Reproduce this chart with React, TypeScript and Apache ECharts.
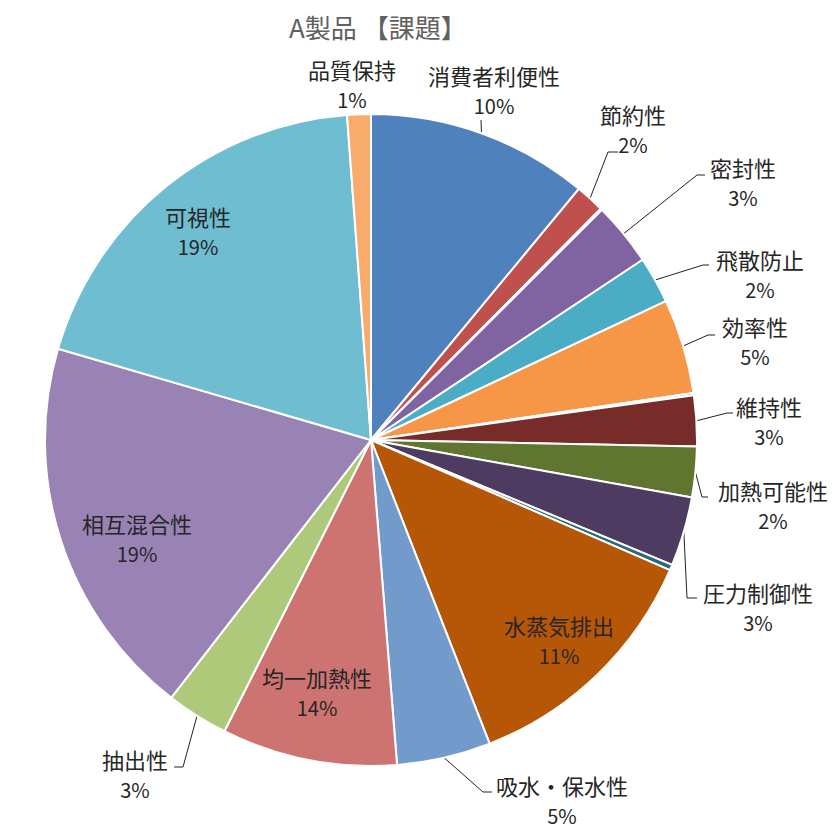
import React, { useEffect, useRef } from 'react';
import * as echarts from 'echarts';

// 項目（時計回り、12時から）。空文字は幅ほぼゼロのスライス
const names = [
  '消費者利便性', '節約性', '', '密封性', '飛散防止', '効率性', '', '維持性',
  '加熱可能性', '圧力制御性', '', '水蒸気排出', '吸水・保水性', '均一加熱性',
  '抽出性', '相互混合性', '可視性', '品質保持',
];
// 図から読み取ったスライスの大きさ（%）
const values = [
  10.97, 1.44, 0.08, 3.14, 2.31, 4.69, 0.11, 2.5,
  2.5, 3.42, 0.28, 12.5, 4.64, 8.67,
  3.06, 18.97, 19.25, 1.17,
];
// ラベルに表示されている割合
const shownPct = [
  '10%', '2%', '', '3%', '2%', '5%', '', '3%',
  '2%', '3%', '', '11%', '5%', '14%',
  '3%', '19%', '19%', '1%',
];
const colors = [
  '#4F81BD', '#C0504D', '#9BBB59', '#8064A2', '#4BACC6', '#F79646', '#2C4D75', '#772C2A',
  '#5F7530', '#4D3B62', '#276A7C', '#B65708', '#729ACA', '#CD7371',
  '#AFC97A', '#9983B5', '#6FBDD1', '#F9AB6B',
];
const insideLabels = ['水蒸気排出', '均一加熱性', '相互混合性', '可視性'];

// ラベル位置と引き出し線の折れ点（レイアウト用）
type Spot = { x: number; y: number; line?: number[][] };
const labelSpots: Record<string, Spot> = {
  '消費者利便性': { x: 494, y: 90, line: [[481, 120], [481, 120]] },
  '節約性': { x: 633, y: 129, line: [[608, 152], [618, 152]] },
  '密封性': { x: 743, y: 182, line: [[697, 175], [705, 175]] },
  '飛散防止': { x: 760, y: 274, line: [[703, 265], [709, 265]] },
  '効率性': { x: 755, y: 341, line: [[708, 335], [715, 335]] },
  '維持性': { x: 769, y: 421, line: [[727, 413], [733, 413]] },
  '加熱可能性': { x: 773, y: 505, line: [[702, 497], [708, 497]] },
  '圧力制御性': { x: 758, y: 607, line: [[687, 598], [697, 598]] },
  '水蒸気排出': { x: 559, y: 640 },
  '吸水・保水性': { x: 562, y: 800, line: [[483, 792], [492, 792]] },
  '均一加熱性': { x: 317, y: 692 },
  '抽出性': { x: 135, y: 774, line: [[183, 767], [174, 767]] },
  '相互混合性': { x: 137, y: 538 },
  '可視性': { x: 198, y: 231 },
  '品質保持': { x: 352, y: 84 },
};

const FONT = '"Noto Sans CJK JP", "Noto Sans", sans-serif';

export default function App() {
  const chartRef = useRef<HTMLDivElement>(null);

  useEffect(() => {
    document.body.style.margin = '0';
    if (!chartRef.current) return;
    const chart = echarts.init(chartRef.current, undefined, { renderer: 'svg' });

    const data = names.map((name, i) => {
      const tiny = name === '';
      const inside = insideLabels.includes(name);
      return {
        name,
        value: values[i],
        itemStyle: { color: colors[i] },
        label: { show: !tiny },
        labelLine: { show: !tiny && !inside && name !== '品質保持' },
      };
    });

    chart.setOption({
      animation: false,
      backgroundColor: '#fff',
      title: {
        text: 'A製品 【課題】',
        left: 284,
        top: 8,
        textStyle: { fontFamily: FONT, fontSize: 26, fontWeight: 'normal', color: '#606060' },
      },
      series: [
        {
          type: 'pie',
          center: [371, 440],
          radius: 326,
          startAngle: 90,
          clockwise: true,
          avoidLabelOverlap: false,
          itemStyle: { borderColor: '#fff', borderWidth: 2 },
          label: {
            position: 'outside',
            formatter: (p: any) => `{n|${p.name}}\n{v|${shownPct[p.dataIndex]}}`,
            rich: {
              n: { fontFamily: FONT, fontSize: 22, lineHeight: 30, color: '#262626', align: 'center' },
              v: { fontFamily: FONT, fontSize: 20, lineHeight: 30, color: '#262626', align: 'center' },
            },
          },
          labelLine: { lineStyle: { color: '#222', width: 1 }, smooth: false },
          labelLayout: (params: any) => {
            const spot = labelSpots[names[params.dataIndex]];
            if (!spot) return {};
            const start = params.labelLinePoints ? params.labelLinePoints[0] : null;
            return {
              x: spot.x,
              y: spot.y,
              align: 'center',
              verticalAlign: 'middle',
              labelLinePoints: start && spot.line ? [start, spot.line[0], spot.line[1]] : undefined,
            };
          },
          data,
        },
      ],
    });

    return () => {
      chart.dispose();
    };
  }, []);

  return <div ref={chartRef} style={{ width: '838px', height: '831px' }} />;
}
